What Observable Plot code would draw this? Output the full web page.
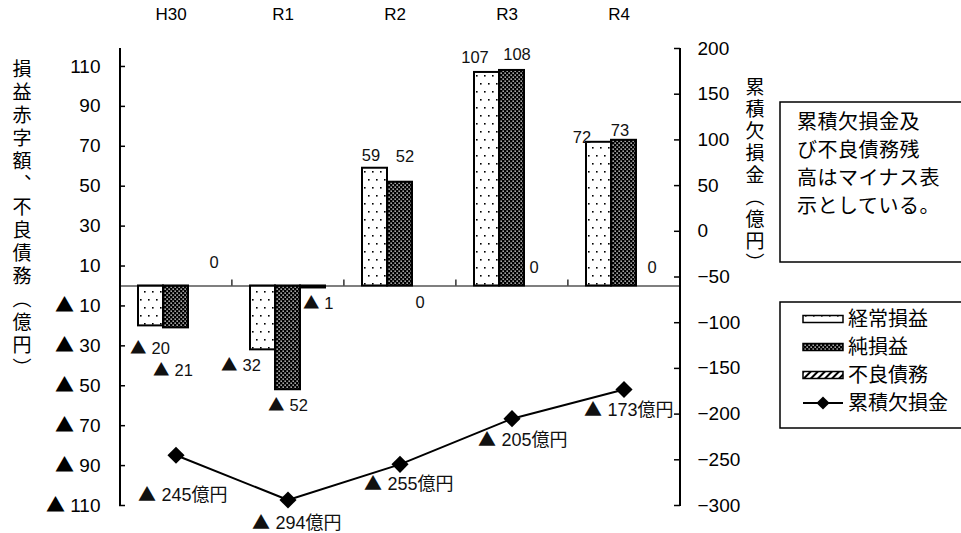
<!DOCTYPE html>
<html><head><meta charset="utf-8">
<script src="https://cdn.jsdelivr.net/npm/d3@7"></script>
<script src="https://cdn.jsdelivr.net/npm/@observablehq/plot@0.6"></script>
<style>
@font-face { font-family: "Tri"; src: local("Noto Sans CJK JP Regular"), local("NotoSansCJKjp-Regular"), local("Noto Sans CJK JP"); unicode-range: U+25B2; }
body{margin:0;background:#fff;}
#chart{position:relative;width:961px;height:533px;overflow:hidden;}
</style></head><body>
<svg width="0" height="0" style="position:absolute">
<defs>
<pattern id="pDot" width="8" height="16" patternUnits="userSpaceOnUse">
 <rect width="8" height="16" fill="#fff"/>
 <rect x="1" y="3" width="1.6" height="1.6" fill="#000"/>
 <rect x="5" y="11" width="1.6" height="1.6" fill="#000"/>
</pattern>
<pattern id="pNet" width="4" height="4" patternUnits="userSpaceOnUse">
 <rect width="4" height="4" fill="#000"/>
 <rect x="0.5" y="0.5" width="1.3" height="1.3" fill="#fff"/>
 <rect x="2.5" y="2.5" width="1.3" height="1.3" fill="#fff"/>
</pattern>
<pattern id="pHatch" width="5" height="5" patternUnits="userSpaceOnUse" patternTransform="rotate(45)">
 <rect width="5" height="5" fill="#fff"/>
 <line x1="1" y1="0" x2="1" y2="5" stroke="#000" stroke-width="2"/>
</pattern>
</defs></svg>
<div id="chart"></div>
<script>
// ---- data ----
const categories = ["H30", "R1", "R2", "R3", "R4"];
const keijo = [-20, -32, 59, 107, 72];        // 経常損益
const jun = [-21, -52, 52, 108, 73];          // 純損益
const furyo = [0, -1, 0, 0, 0];               // 不良債務
const ruiseki = [-245, -294, -255, -205, -173]; // 累積欠損金
const seriesNames = ["経常損益", "純損益", "不良債務", "累積欠損金"];
const leftTicks = [110, 90, 70, 50, 30, 10, -10, -30, -50, -70, -90, -110];
const rightTicks = [200, 150, 100, 50, 0, -50, -100, -150, -200, -250, -300];
const leftTitle = "損益赤字額、不良債務（億円）";
const rightTitle = "累積欠損金（億円）";
const noteLines = ["累積欠損金及", "び不良債務残", "高はマイナス表", "示としている。"];

// ---- layout ----
const W = 961, H = 533, mT = 48, mB = 28, mL = 119, mR = 281;
const yLeftDomain = [-110, 119];
const rightDomain = [-300, 200];
const toLeft = r => yLeftDomain[0] + (r - rightDomain[0]) * (yLeftDomain[1] - yLeftDomain[0]) / (rightDomain[1] - rightDomain[0]);
const toRight = l => rightDomain[0] + (l - yLeftDomain[0]) * (rightDomain[1] - rightDomain[0]) / (yLeftDomain[1] - yLeftDomain[0]);
const frameW = W - mL - mR;
const step = frameW / categories.length;
const barW = 25;
const padInner = 1 - barW / step;

const tri = v => v < 0 ? "▲ " + Math.abs(v) : String(v);
const minus = v => v < 0 ? "−" + Math.abs(v) : String(v);

const barSeries = [
  {values: keijo, fill: "url(#pDot)", dx: -barW},
  {values: jun, fill: "url(#pNet)", dx: 0},
  {values: furyo, fill: "url(#pHatch)", dx: barW}
];
// label nudges in px [dx, dy] per series / category
const barLabelNudge = [
  [[-1, 23], [-22, 16], [-4, -13], [-12, -15], [-17, -5]],
  [[-3, 43], [0, 16], [5, -25], [5, -16], [-4, -10]],
  [[13, -23], [5, 16], [-5, 17], [-3, -18], [3, -18]]
];
const lineLabelNudge = [[7, 40], [9, 23], [9, 20], [11, 22], [5, 21]];

const marks = [];
// axis lines (left and right)
marks.push(Plot.frame({insetRight: frameW - 1, stroke: "#000", strokeWidth: 1}));
marks.push(Plot.frame({insetLeft: frameW - 1, stroke: "#000", strokeWidth: 1}));
// tick marks (inward)
marks.push(Plot.ruleY(leftTicks, {y: d => d, insetRight: frameW - 6, stroke: "#000", strokeWidth: 1.5}));
marks.push(Plot.ruleY(rightTicks.map(toLeft), {y: d => d, insetLeft: frameW - 6, stroke: "#000", strokeWidth: 1.5}));
// axes
marks.push(Plot.axisY(leftTicks, {anchor: "left", tickSize: 0, tickPadding: 19, tickFormat: tri, fontSize: 19, label: null}));
marks.push(Plot.axisY(rightTicks.map(toLeft), {anchor: "right", tickSize: 0, tickPadding: 17, tickFormat: d => minus(Math.round(toRight(d))), fontSize: 19, label: null}));
marks.push(Plot.axisX({anchor: "top", tickSize: 0, tickPadding: 29, fontSize: 17, dx: -5, label: null}));

// bars
barSeries.forEach(s => {
  marks.push(Plot.barY(categories.map((c, i) => ({c, v: s.values[i]})), {
    x: "c", y: "v", fill: s.fill, stroke: "#000", strokeWidth: 2, dx: s.dx
  }));
});
// zero line and category ticks
marks.push(Plot.ruleY([0], {stroke: "#000", strokeWidth: 1.2}));
marks.push(Plot.ruleX(categories.slice(1), {x: d => d, y1: 0, y2: 3, dx: -step / 2, stroke: "#000", strokeWidth: 1.2}));

// bar labels
barSeries.forEach((s, si) => {
  categories.forEach((c, i) => {
    const [ndx, ndy] = barLabelNudge[si][i];
    marks.push(Plot.text([{c, v: s.values[i]}], {
      x: "c", y: "v", text: d => tri(d.v), dx: s.dx + ndx, dy: ndy, fontSize: 16.5, fill: "#111"
    }));
  });
});

// cumulative deficit line
const lineData = categories.map((c, i) => ({c, v: toLeft(ruiseki[i]), raw: ruiseki[i]}));
marks.push(Plot.line(lineData, {x: "c", y: "v", stroke: "#000", strokeWidth: 2}));
marks.push(Plot.dot(lineData, {x: "c", y: "v", symbol: "diamond2", r: 7.7, fill: "#000", stroke: "none"}));
lineData.forEach((d, i) => {
  const [ndx, ndy] = lineLabelNudge[i];
  marks.push(Plot.text([d], {x: "c", y: "v", text: e => tri(e.raw) + "億円", dx: ndx, dy: ndy, fontSize: 18, fill: "#111"}));
});

const chart = Plot.plot({
  width: W, height: H,
  marginTop: mT, marginBottom: mB, marginLeft: mL, marginRight: mR,
  style: {fontFamily: "Tri,'Liberation Sans','Noto Sans CJK JP',sans-serif", fontSize: "16px", background: "#fff", color: "#000", overflow: "visible"},
  x: {type: "band", domain: categories, paddingInner: padInner, paddingOuter: padInner / 2},
  y: {domain: yLeftDomain},
  marks
});
document.getElementById("chart").appendChild(chart);

// ---- titles, note box and legend ----
const svg = d3.select(chart);
const jp = "'Noto Sans CJK JP',sans-serif";
svg.append("text").attr("x", 22).attr("y", 59).attr("text-anchor", "start")
  .attr("style", `writing-mode: vertical-rl; font-family:${jp}; font-size:19px; letter-spacing:4px;`)
  .attr("fill", "#000").text(leftTitle);
svg.append("text").attr("x", 755).attr("y", 77).attr("text-anchor", "start")
  .attr("style", `writing-mode: vertical-rl; font-family:${jp}; font-size:19px; letter-spacing:3px;`)
  .attr("fill", "#000").text(rightTitle);

svg.append("rect").attr("x", 780).attr("y", 102).attr("width", 200).attr("height", 160)
  .attr("fill", "#fff").attr("stroke", "#000").attr("stroke-width", 1.5);
noteLines.forEach((t, i) => {
  svg.append("text").attr("x", 797).attr("y", 129 + i * 28).attr("text-anchor", "start")
    .attr("style", `font-family:${jp}; font-size:20px; letter-spacing:0.5px;`).attr("fill", "#000").text(t);
});

const lg = svg.append("g");
lg.append("rect").attr("x", 780).attr("y", 302).attr("width", 200).attr("height", 126)
  .attr("fill", "#fff").attr("stroke", "#000").attr("stroke-width", 1.5);
const legendY = [319, 347, 375, 403];
barSeries.forEach((s, i) => {
  lg.append("rect").attr("x", 803).attr("y", legendY[i] - 3.5).attr("width", 40).attr("height", 7)
    .attr("fill", s.fill).attr("stroke", "#000").attr("stroke-width", 1.5);
});
lg.append("line").attr("x1", 803).attr("x2", 843).attr("y1", legendY[3]).attr("y2", legendY[3])
  .attr("stroke", "#000").attr("stroke-width", 2);
lg.append("path").attr("d", d3.symbol(d3.symbolDiamond2, 110)()).attr("transform", `translate(823,${legendY[3]})`).attr("fill", "#000");
seriesNames.forEach((n, i) => {
  lg.append("text").attr("x", 848).attr("y", legendY[i] + 7).attr("text-anchor", "start")
    .attr("style", `font-family:${jp}; font-size:20px;`).attr("fill", "#000").text(n);
});
</script>
</body></html>
